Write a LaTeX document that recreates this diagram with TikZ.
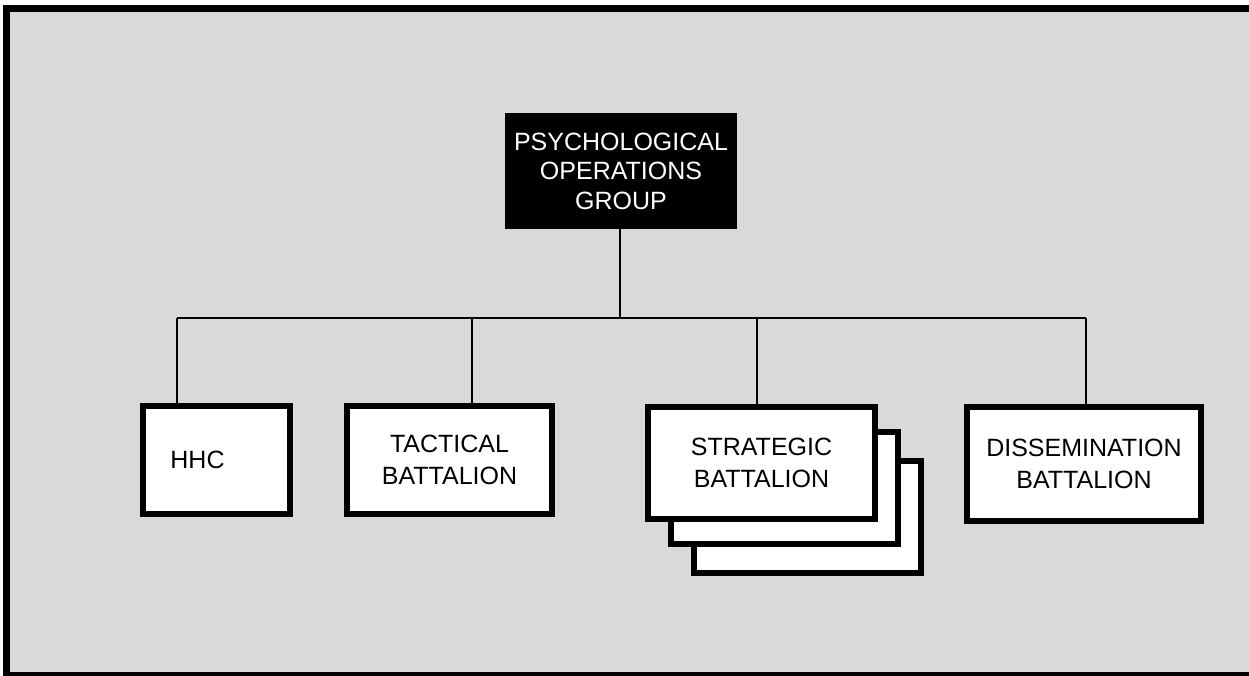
\documentclass[tikz,border=0pt]{standalone}
\usepackage{fontspec}
\setmainfont{Liberation Sans}
\begin{document}
\begin{tikzpicture}[x=1pt,y=-1pt,
  bg/.style={fill=black!15},
  link/.style={line width=1.7pt,black},
  orgbox/.style={draw=black,fill=white,line width=6pt,inner sep=0pt,
    minimum width=#1,minimum height=108pt,align=center,
    font=\fontsize{25}{32}\selectfont},
  orgbox/.default=147pt,
  groupbox/.style={draw=black,fill=black,text=white,line width=1pt,inner sep=0pt,
    minimum width=231pt,minimum height=115pt,align=center,
    font=\fontsize{25}{29.5}\selectfont}
]
\useasboundingbox (0,0) rectangle (1249,676);
\clip (0,0) rectangle (1249,676);
\fill[white] (0,0) rectangle (1249,676);
\fill[bg] (6.5,8.5) rectangle (1260,673.5);
\draw[line width=7pt] (6.5,690) -- (6.5,8.5) -- (1260,8.5);
\draw[line width=4pt] (3,673.5) -- (1260,673.5);

% nodes
\node[groupbox] (grp) at (621,171) {PSYCHOLOGICAL\\OPERATIONS\\GROUP};

\coordinate (junc) at (620,318);
\coordinate (busL) at (177,318);
\coordinate (busR) at (1086,318);
\coordinate (tacT) at (472,318);
\coordinate (strT) at (757,318);

\draw[link] (grp.south -| junc) -- (junc);
\draw[link] (busL) -- (busR);
\draw[link] (busL) -- (177,406);
\draw[link] (tacT) -- (472,406);
\draw[link] (strT) -- (757,407);
\draw[link] (busR) -- (1086,407);

\node[orgbox=147pt] (hhc) at (216.5,460) {HHC\hspace*{38pt}};
\node[orgbox=205pt] (tac) at (449.5,460) {TACTICAL\\BATTALION};
\node[orgbox=227pt,minimum height=112pt] (str3) at (807.5,517) {};
\node[orgbox=227pt,minimum height=112pt] (str2) at (784.5,488) {};
\node[orgbox=227pt,minimum height=112pt] (str) at (761.5,463) {STRATEGIC\\BATTALION};
\node[orgbox=234pt,minimum height=114pt] (dis) at (1084,464) {DISSEMINATION\\BATTALION};
\end{tikzpicture}
\end{document}
